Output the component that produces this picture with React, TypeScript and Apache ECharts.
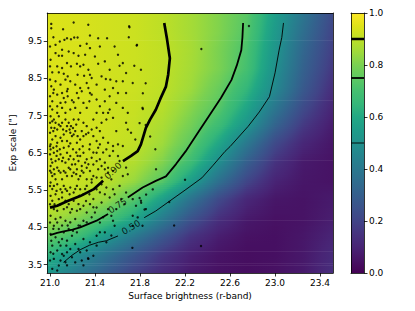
import React, { useEffect, useRef } from "react";
import * as echarts from "echarts";

// ---------- axes ----------
const X_RANGE = [20.975, 23.515];
const Y_RANGE = [3.275, 10.257];
const X_TICKS = [21.0, 21.4, 21.8, 22.2, 22.6, 23.0, 23.4];
const Y_TICKS = [3.5, 4.5, 5.5, 6.5, 7.5, 8.5, 9.5];

// ---------- completeness field ----------
const X_NODES = [21.0, 21.25, 21.5, 21.75, 22.0, 22.25, 22.5, 22.75, 23.0, 23.25, 23.5];
const Y_NODES = [10.25, 9.75, 9.25, 8.75, 8.25, 7.75, 7.25, 6.75, 6.25, 5.75, 5.25, 4.75, 4.25, 3.75, 3.25];
const COMPLETENESS = [
  [0.945, 0.94, 0.93, 0.92, 0.9, 0.86, 0.81, 0.74, 0.56, 0.39, 0.23],
  [0.945, 0.94, 0.93, 0.92, 0.9, 0.86, 0.81, 0.73, 0.54, 0.36, 0.21],
  [0.945, 0.94, 0.93, 0.92, 0.905, 0.865, 0.8, 0.71, 0.52, 0.33, 0.19],
  [0.945, 0.94, 0.93, 0.92, 0.905, 0.86, 0.8, 0.7, 0.5, 0.31, 0.17],
  [0.945, 0.94, 0.93, 0.92, 0.902, 0.85, 0.77, 0.65, 0.47, 0.28, 0.14],
  [0.94, 0.935, 0.925, 0.915, 0.89, 0.82, 0.74, 0.59, 0.4, 0.23, 0.11],
  [0.94, 0.935, 0.925, 0.91, 0.87, 0.79, 0.68, 0.52, 0.32, 0.17, 0.08],
  [0.935, 0.93, 0.92, 0.905, 0.85, 0.75, 0.59, 0.4, 0.22, 0.11, 0.06],
  [0.93, 0.925, 0.91, 0.88, 0.81, 0.68, 0.49, 0.3, 0.15, 0.07, 0.05],
  [0.925, 0.915, 0.897, 0.84, 0.74, 0.56, 0.37, 0.21, 0.1, 0.06, 0.05],
  [0.915, 0.895, 0.84, 0.73, 0.56, 0.38, 0.22, 0.11, 0.06, 0.05, 0.07],
  [0.87, 0.81, 0.72, 0.59, 0.42, 0.26, 0.14, 0.07, 0.045, 0.05, 0.08],
  [0.76, 0.68, 0.53, 0.4, 0.27, 0.15, 0.08, 0.045, 0.04, 0.06, 0.1],
  [0.63, 0.49, 0.37, 0.26, 0.16, 0.09, 0.05, 0.035, 0.04, 0.065, 0.12],
  [0.52, 0.4, 0.29, 0.19, 0.12, 0.07, 0.045, 0.035, 0.045, 0.07, 0.13],
];

// ---------- contours ----------
const CONTOUR_90_UPPER = [
  [22.015, 9.99], [22.04, 9.55], [22.065, 9.04], [22.05, 8.6], [22.03, 8.28], [21.98, 7.95],
  [21.94, 7.66], [21.89, 7.4], [21.852, 7.17], [21.83, 6.95], [21.808, 6.73], [21.779, 6.55],
  [21.72, 6.42], [21.648, 6.28],
];
const CONTOUR_90_LOWER = [
  [21.0, 5.03], [21.064, 5.08], [21.151, 5.2], [21.268, 5.34], [21.385, 5.52], [21.472, 5.75],
];
const CONTOUR_75_UPPER = [
  [22.716, 9.99], [22.71, 9.6], [22.7, 9.26], [22.66, 8.85], [22.613, 8.46], [22.52, 7.98],
  [22.41, 7.48], [22.32, 7.07], [22.234, 6.67], [22.205, 6.54], [22.12, 6.2], [22.03, 5.87],
  [21.94, 5.75], [21.823, 5.57], [21.691, 5.3],
];
const CONTOUR_75_LOWER = [
  [21.0, 4.29], [21.064, 4.35], [21.122, 4.39], [21.2, 4.44], [21.268, 4.5], [21.414, 4.68], [21.516, 4.86],
];
const CONTOUR_50_UPPER = [
  [23.075, 9.99], [23.06, 9.6], [23.036, 9.26], [23.0, 8.65], [22.95, 8.01], [22.86, 7.6],
  [22.76, 7.21], [22.6, 6.67], [22.555, 6.54], [22.45, 6.17], [22.35, 5.83], [22.2, 5.5],
  [22.06, 5.2], [21.94, 4.94], [21.837, 4.76],
];
const CONTOUR_50_LOWER = [
  [21.12, 3.56], [21.195, 3.75], [21.268, 3.9], [21.35, 4.02], [21.43, 4.1], [21.5, 4.14], [21.604, 4.27],
];
const CONTOUR_LABEL_POS = [[21.56, 6.02], [21.6, 5.08], [21.72, 4.5]];
const CONTOUR_LABEL_TEXT = ["0.90", "0.75", "0.50"];
const CONTOUR_LABEL_ANGLE = [44, 33, 31];
const LEVELS = [0.9, 0.75, 0.5];

// ---------- galaxies ----------
const GALAXIES = [
  [21.011, 9.964], [21.011, 9.848], [21.21, 10.0], [21.34, 9.94], [21.116, 9.82], [21.706, 9.875],
  [21.03, 9.607], [21.151, 9.58], [21.186, 9.554], [21.215, 9.6], [21.245, 9.6], [21.355, 9.652],
  [21.428, 9.58], [21.507, 9.58], [21.7, 9.607], [21.087, 9.49], [21.128, 9.536], [21.268, 9.375],
  [21.326, 9.43], [21.355, 9.313], [21.443, 9.358], [21.574, 9.358], [21.77, 9.385],
  [21.049, 9.18], [21.078, 9.108], [21.107, 9.108], [21.005, 9.0], [21.253, 9.108], [21.151, 8.912],
  [21.186, 8.823], [21.239, 8.894], [21.268, 8.823], [21.428, 8.894], [21.604, 9.135], [21.647, 8.912],
  [21.618, 8.84], [21.749, 8.84], [21.808, 8.734], [21.02, 8.663], [21.078, 8.663], [21.122, 8.627],
  [21.157, 8.556], [21.137, 8.467], [21.245, 8.6], [21.303, 8.573], [21.355, 8.6], [21.37, 8.511],
  [21.458, 8.556], [21.496, 8.485], [21.536, 8.467], [21.589, 8.422], [21.647, 8.422],
  [21.011, 8.288], [21.034, 8.199], [21.029, 8.11], [21.064, 8.065], [21.107, 8.11], [21.122, 7.976],
  [21.093, 7.843], [21.137, 7.86], [21.02, 7.664], [21.064, 7.753], [21.157, 8.217], [21.151, 8.154],
  [21.195, 7.914], [21.21, 7.86], [21.239, 8.11], [21.268, 8.243], [21.282, 8.154], [21.341, 8.243],
  [21.355, 8.11], [21.37, 8.065], [21.414, 7.932], [21.443, 7.753], [21.487, 7.887], [21.53, 8.021],
  [21.56, 8.243], [21.604, 8.11], [21.676, 8.11], [21.735, 8.377], [21.516, 7.575], [21.53, 7.664],
  [21.414, 7.575], [21.268, 7.575], [21.224, 7.709], [21.18, 7.664], [21.137, 7.575], [21.822, 7.709],
  [21.064, 7.575],
  [21.005, 7.486], [21.034, 7.397], [21.049, 7.308], [21.011, 7.174], [21.029, 7.085], [21.064, 7.13],
  [21.093, 7.219], [21.107, 7.308], [21.137, 7.397], [21.151, 7.219], [21.174, 7.13], [21.18, 7.04],
  [21.195, 6.951], [21.21, 6.996], [21.224, 7.085], [21.186, 7.219], [21.122, 6.996], [21.093, 6.907],
  [21.049, 6.951], [21.02, 6.862], [21.005, 6.729], [21.064, 6.773], [21.107, 6.818], [21.151, 6.818],
  [21.18, 6.755], [21.239, 6.773], [21.268, 6.862], [21.297, 6.951], [21.341, 7.04], [21.37, 7.13],
  [21.414, 7.174], [21.443, 7.085], [21.458, 7.308], [21.501, 7.397], [21.56, 7.441], [21.589, 7.085],
  [21.676, 7.308], [21.691, 7.13], [21.72, 7.04], [21.758, 6.862], [21.472, 6.907], [21.516, 6.773],
  [21.56, 6.684], [21.355, 6.729], [21.297, 7.308], [21.253, 7.397], [21.385, 7.397], [21.078, 7.486],
  [21.21, 7.397], [21.326, 7.219], [21.604, 6.729], [21.647, 6.684],
  [21.005, 6.595], [21.034, 6.506], [21.064, 6.55], [21.093, 6.461], [21.011, 6.328], [21.049, 6.283],
  [21.078, 6.328], [21.116, 6.372], [21.137, 6.238], [21.151, 6.506], [21.18, 6.417], [21.21, 6.328],
  [21.224, 6.194], [21.253, 6.283], [21.268, 6.417], [21.297, 6.506], [21.326, 6.328], [21.341, 6.194],
  [21.37, 6.372], [21.414, 6.506], [21.443, 6.328], [21.487, 6.238], [21.501, 6.595], [21.56, 6.55],
  [21.604, 6.417], [21.618, 6.283], [21.676, 6.105], [21.691, 5.926], [21.005, 6.149], [21.034, 6.06],
  [21.064, 6.105], [21.093, 5.971], [21.122, 6.016], [21.151, 5.882], [21.02, 5.882], [21.049, 5.793],
  [21.107, 5.793], [21.18, 6.06], [21.21, 5.971], [21.239, 6.06], [21.268, 5.882], [21.297, 5.971],
  [21.355, 6.016], [21.385, 5.882], [21.428, 6.06], [21.458, 5.837], [21.516, 5.971], [21.56, 6.016],
  [21.647, 5.882], [21.326, 5.793], [21.253, 5.793],
  [21.005, 5.703], [21.034, 5.614], [21.064, 5.659], [21.093, 5.525], [21.122, 5.614], [21.151, 5.481],
  [21.18, 5.57], [21.21, 5.436], [21.239, 5.614], [21.268, 5.525], [21.297, 5.392], [21.326, 5.614],
  [21.37, 5.703], [21.414, 5.525], [21.458, 5.659], [21.487, 5.392], [21.53, 5.303], [21.56, 5.525],
  [21.618, 5.614], [21.676, 5.436], [21.735, 5.258], [21.764, 5.08], [21.005, 5.347], [21.049, 5.392],
  [21.078, 5.258], [21.02, 5.213], [21.107, 5.303], [21.137, 5.213], [21.166, 5.124], [21.21, 5.213],
  [21.253, 5.124], [21.297, 5.08], [21.355, 5.124], [21.414, 5.035], [21.458, 5.169], [21.064, 4.946],
  [21.122, 4.991], [21.18, 4.901], [21.239, 4.946], [21.326, 4.901], [21.399, 4.901], [21.034, 4.991],
  [21.589, 4.991], [21.662, 5.124], [21.852, 4.991], [21.808, 5.213],
  [21.005, 4.812], [21.049, 4.723], [21.093, 4.768], [21.137, 4.679], [21.18, 4.634], [21.224, 4.723],
  [21.268, 4.545], [21.326, 4.634], [21.034, 4.545], [21.078, 4.456], [21.122, 4.366], [21.166, 4.456],
  [21.005, 4.322], [21.049, 4.233], [21.107, 4.188], [21.151, 4.144], [21.195, 4.277], [21.239, 4.366],
  [21.297, 4.188], [21.355, 4.099], [21.414, 4.277], [21.487, 4.366], [21.56, 4.679], [21.574, 4.545],
  [21.735, 4.812], [21.779, 4.768], [21.822, 4.545], [21.735, 4.545], [21.501, 4.099], [21.02, 4.01],
  [21.093, 4.01], [21.224, 4.055],
  [21.005, 3.832], [21.064, 3.877], [21.107, 3.787], [21.151, 3.832], [21.034, 3.654], [21.093, 3.609],
  [21.195, 3.698], [21.268, 3.832], [21.078, 3.475], [21.137, 3.564], [21.341, 3.654], [21.02, 3.386],
  [21.0, 7.31], [21.0, 7.04], [21.02, 7.35], [21.04, 7.17], [21.078, 7.26], [21.116, 7.13],
  [21.145, 7.085], [21.166, 7.31], [21.204, 7.17], [21.233, 7.26], [21.245, 6.95], [21.282, 7.085],
  [21.32, 7.0], [21.385, 6.95], [21.414, 6.82], [21.443, 6.73],
  [21.0, 6.68], [21.029, 6.64], [21.058, 6.68], [21.087, 6.6], [21.122, 6.64], [21.166, 6.68],
  [21.204, 6.6], [21.233, 6.51], [21.262, 6.6], [21.291, 6.68], [21.35, 6.6], [21.385, 6.51],
  [21.428, 6.64], [21.472, 6.51], [21.53, 6.42],
  [21.0, 6.46], [21.02, 6.24], [21.058, 6.42], [21.107, 6.28], [21.166, 6.33], [21.195, 6.19],
  [21.245, 6.42], [21.282, 6.15], [21.312, 6.24], [21.385, 6.19], [21.414, 6.28], [21.458, 6.15],
  [21.516, 6.1],
  [21.0, 6.02], [21.011, 5.97], [21.04, 5.93], [21.078, 6.02], [21.137, 5.97], [21.166, 6.1],
  [21.195, 5.88], [21.233, 5.93], [21.282, 6.02], [21.326, 6.1], [21.37, 5.79], [21.414, 5.84],
  [21.487, 6.06], [21.545, 5.79],
  [21.0, 5.61], [21.02, 5.53], [21.058, 5.48], [21.107, 5.44], [21.137, 5.53], [21.174, 5.39],
  [21.224, 5.53], [21.262, 5.35], [21.312, 5.53], [21.35, 5.39], [21.385, 5.26], [21.443, 5.44],
  [21.501, 5.57], [21.574, 5.39], [21.633, 5.26],
  [21.0, 5.12], [21.04, 5.12], [21.093, 5.12], [21.151, 5.04], [21.195, 4.99], [21.268, 4.99],
  [21.32, 5.21], [21.385, 5.04], [21.516, 4.99], [21.545, 4.81],
  [21.0, 4.63], [21.029, 4.46], [21.064, 4.63], [21.107, 4.55], [21.157, 4.55], [21.204, 4.41],
  [21.253, 4.55], [21.297, 4.68], [21.37, 4.77], [21.443, 4.63], [21.472, 4.77],
  [21.011, 4.14], [21.078, 4.1], [21.145, 4.01], [21.18, 3.92], [21.253, 3.92], [21.326, 3.88],
  [21.414, 4.01], [21.029, 3.79], [21.122, 3.74], [21.224, 3.56], [21.282, 3.61], [21.064, 3.34],
  [21.0, 3.61], [21.151, 3.48], [21.297, 3.48], [21.385, 3.74], [21.443, 4.37], [21.545, 4.28],
  [21.0, 9.358], [21.049, 9.402], [21.107, 9.269], [21.166, 9.224], [21.21, 9.18], [21.312, 9.135],
  [21.399, 9.09], [21.487, 8.957], [21.0, 8.823], [21.064, 8.823], [21.107, 8.778], [21.297, 8.868],
  [21.341, 8.734], [21.53, 8.734], [21.676, 8.645], [21.0, 8.467], [21.049, 8.422], [21.093, 8.333],
  [21.18, 8.422], [21.224, 8.333], [21.326, 8.377], [21.414, 8.333], [21.487, 8.199], [21.0, 8.021],
  [21.02, 7.887], [21.157, 8.021], [21.253, 7.976], [21.297, 7.843], [21.35, 7.887], [21.589, 7.843],
  [21.647, 7.709], [21.0, 7.753], [21.107, 7.709], [21.326, 7.709], [21.472, 7.575], [21.691, 7.575],
  [22.768, 9.91], [22.345, 9.29], [21.703, 9.9], [21.773, 9.4], [21.825, 7.68], [21.85, 7.25],
  [21.89, 6.94], [21.936, 6.6], [21.796, 7.3], [21.825, 8.1], [21.85, 8.37], [22.103, 4.55],
  [22.2, 5.78], [21.942, 6.06], [22.342, 4.0], [21.732, 3.95], [21.338, 3.67], [22.06, 5.18],
  [21.796, 5.29], [21.81, 5.16], [21.854, 5.38], [21.913, 5.52], [21.84, 4.98],
];

// ---------- viridis (0.00 .. 1.00 every 0.05) ----------
const VIRIDIS = [
  "#440154", "#471365", "#482475", "#46337f", "#414487", "#3b528b", "#355f8d",
  "#2f6c8e", "#2a788e", "#25848e", "#21918c", "#1e9c89", "#22a884", "#35b779",
  "#44bf70", "#5ec962", "#7ad151", "#9fda3a", "#bddf26", "#dfe318", "#fde725",
];

const FONT = "DejaVu Sans";
const STRIPS_PER_ROW = 9;

function hexToRgb(h: string) {
  return [parseInt(h.slice(1, 3), 16), parseInt(h.slice(3, 5), 16), parseInt(h.slice(5, 7), 16)];
}
const VIR_RGB = VIRIDIS.map(hexToRgb);
function viridis(v: number) {
  const t = Math.max(0, Math.min(1, v)) * (VIRIDIS.length - 1);
  const i = Math.min(VIRIDIS.length - 2, Math.floor(t));
  const f = t - i;
  const a = VIR_RGB[i], b = VIR_RGB[i + 1];
  const c = a.map((x, k) => Math.round(x + (b[k] - x) * f));
  return `rgb(${c[0]},${c[1]},${c[2]})`;
}

export default function App() {
  const ref = useRef<HTMLDivElement>(null);
  useEffect(() => {
    if (!ref.current) return;
    const chart = echarts.init(ref.current, undefined, { renderer: "svg" });
    const nc = X_NODES.length, nr = Y_NODES.length;

    // one item per horizontal strip: [xmin, yBottom, xmax, yTop, row, sub]
    const strips: number[][] = [];
    for (let r = 0; r < nr - 1; r++)
      for (let k = 0; k < STRIPS_PER_ROW; k++)
        strips.push([X_NODES[0], Y_NODES[r + 1], X_NODES[nc - 1], Y_NODES[r], r, k]);

    const renderStrip = (params: any, api: any) => {
      const r = api.value(4) as number, k = api.value(5) as number;
      const cs = params.coordSys;
      let yt = api.coord([X_NODES[0], Y_NODES[r]])[1];
      let yb = api.coord([X_NODES[0], Y_NODES[r + 1]])[1];
      if (r === 0) yt = cs.y;
      if (r === nr - 2) yb = cs.y + cs.height;
      const h = (yb - yt) / STRIPS_PER_ROW;
      const y0 = yt + k * h;
      // value fraction at strip centre, measured in data space between the two node rows
      const yc = y0 + h / 2;
      const ytn = api.coord([X_NODES[0], Y_NODES[r]])[1];
      const ybn = api.coord([X_NODES[0], Y_NODES[r + 1]])[1];
      const t = Math.max(0, Math.min(1, (yc - ytn) / (ybn - ytn)));
      const vals = X_NODES.map((_, c) => COMPLETENESS[r][c] * (1 - t) + COMPLETENESS[r + 1][c] * t);
      const offs = X_NODES.map((x) => (api.coord([x, Y_NODES[r]])[0] - cs.x) / cs.width);
      const stops: { offset: number; color: string }[] = [];
      const nS = VIRIDIS.length - 1;
      for (let c = 0; c < nc; c++) {
        stops.push({ offset: Math.max(0, Math.min(1, offs[c])), color: viridis(vals[c]) });
        if (c < nc - 1) {
          const a = vals[c], b = vals[c + 1];
          const lo = Math.min(a, b), hi = Math.max(a, b);
          const cross: number[] = [];
          for (let i = 1; i < nS; i++) {
            const s = i / nS;
            if (s > lo && s < hi) cross.push(s);
          }
          if (b < a) cross.reverse();
          cross.forEach((s) => {
            const f = (s - a) / (b - a);
            stops.push({ offset: offs[c] + f * (offs[c + 1] - offs[c]), color: VIRIDIS[Math.round(s * nS)] });
          });
        }
      }
      return {
        type: "rect",
        shape: { x: cs.x, y: y0, width: cs.width, height: h + (k === STRIPS_PER_ROW - 1 && r === nr - 2 ? 0 : 0.7) },
        style: { fill: new echarts.graphic.LinearGradient(0, 0, 1, 0, stops) },
      };
    };

    const renderColorbar = (_params: any, api: any) => {
      const p0 = api.coord([0, 0]);
      const p1 = api.coord([1, 1]);
      return {
        type: "rect",
        shape: { x: p0[0], y: p1[1], width: p1[0] - p0[0], height: p0[1] - p1[1] },
        style: {
          fill: new echarts.graphic.LinearGradient(
            0, 1, 0, 0,
            VIRIDIS.map((col, i) => ({ offset: i / (VIRIDIS.length - 1), color: col }))
          ),
        },
      };
    };

    const spine = { show: true, onZero: false, lineStyle: { color: "#000", width: 0.8 } };
    const tick = { show: true, length: 3.5, lineStyle: { color: "#000", width: 0.8 } };
    const lbl = { fontSize: 9, color: "#000", fontFamily: FONT };
    const lineOnly = (extra: any) => ({
      type: "value",
      z: 10,
      axisLine: spine,
      axisTick: { show: false },
      axisLabel: { show: false },
      splitLine: { show: false },
      ...extra,
    });

    const contourSeries = (data: number[][], width: number) => ({
      type: "line",
      xAxisIndex: 0,
      yAxisIndex: 0,
      data,
      symbol: "none",
      z: 3,
      lineStyle: { color: "#000", width },
      silent: true,
    });
    const widths = [2.7, 1.8, 0.9];

    chart.setOption({
      animation: false,
      grid: [
        { left: 43, top: 13, width: 290, height: 260 },
        { left: 351, top: 13, width: 13, height: 260 },
      ],
      xAxis: [
        {
          type: "value",
          gridIndex: 0,
          min: X_RANGE[0],
          max: X_RANGE[1],
          z: 10,
          axisLine: spine,
          axisTick: { ...tick, customValues: X_TICKS },
          axisLabel: { ...lbl, margin: 5, customValues: X_TICKS, formatter: (v: number) => v.toFixed(1) },
          splitLine: { show: false },
          name: "Surface brightness (r-band)",
          nameLocation: "middle",
          nameGap: 18,
          nameTextStyle: lbl,
        },
        lineOnly({ gridIndex: 0, position: "top", min: X_RANGE[0], max: X_RANGE[1] }),
        lineOnly({ gridIndex: 1, position: "bottom", min: 0, max: 1 }),
        lineOnly({ gridIndex: 1, position: "top", min: 0, max: 1 }),
      ],
      yAxis: [
        {
          type: "value",
          gridIndex: 0,
          min: Y_RANGE[0],
          max: Y_RANGE[1],
          z: 10,
          axisLine: spine,
          axisTick: { ...tick, customValues: Y_TICKS },
          axisLabel: { ...lbl, margin: 5, customValues: Y_TICKS, formatter: (v: number) => v.toFixed(1) },
          splitLine: { show: false },
          name: 'Exp scale ["]',
          nameLocation: "middle",
          nameRotate: 90,
          nameGap: 24,
          nameTextStyle: lbl,
        },
        lineOnly({ gridIndex: 0, position: "right", min: Y_RANGE[0], max: Y_RANGE[1] }),
        {
          type: "value",
          gridIndex: 1,
          position: "right",
          min: 0,
          max: 1,
          interval: 0.2,
          z: 10,
          axisLine: spine,
          axisTick: tick,
          axisLabel: { ...lbl, margin: 5, formatter: (v: number) => v.toFixed(1) },
          splitLine: { show: false },
        },
        lineOnly({ gridIndex: 1, position: "left", min: 0, max: 1 }),
      ],
      series: [
        {
          type: "custom",
          xAxisIndex: 0,
          yAxisIndex: 0,
          z: 1,
          silent: true,
          data: strips,
          encode: { x: [0, 2], y: [1, 3] },
          renderItem: renderStrip,
        },
        contourSeries(CONTOUR_90_UPPER, widths[0]),
        contourSeries(CONTOUR_90_LOWER, widths[0]),
        contourSeries(CONTOUR_75_UPPER, widths[1]),
        contourSeries(CONTOUR_75_LOWER, widths[1]),
        contourSeries(CONTOUR_50_UPPER, widths[2]),
        contourSeries(CONTOUR_50_LOWER, widths[2]),
        {
          type: "scatter",
          xAxisIndex: 0,
          yAxisIndex: 0,
          z: 4,
          silent: true,
          symbol: "circle",
          symbolSize: 2.4,
          itemStyle: { color: "#000" },
          data: GALAXIES,
        },
        {
          type: "scatter",
          xAxisIndex: 0,
          yAxisIndex: 0,
          z: 5,
          silent: true,
          symbolSize: 0.1,
          itemStyle: { color: "transparent" },
          data: CONTOUR_LABEL_POS.map((p, i) => ({
            value: p,
            label: {
              show: true,
              position: "inside",
              formatter: CONTOUR_LABEL_TEXT[i],
              rotate: CONTOUR_LABEL_ANGLE[i],
              ...lbl,
            },
          })),
        },
        {
          type: "custom",
          xAxisIndex: 2,
          yAxisIndex: 2,
          z: 1,
          silent: true,
          data: [[0, 0, 1, 1]],
          encode: { x: [0, 2], y: [1, 3] },
          renderItem: renderColorbar,
        },
        ...LEVELS.map((lv, i) => ({
          type: "line",
          xAxisIndex: 2,
          yAxisIndex: 2,
          z: 3,
          silent: true,
          symbol: "none",
          lineStyle: { color: "#000", width: widths[i] },
          data: [[0, lv], [1, lv]],
        })),
      ],
    });
    return () => chart.dispose();
  }, []);
  return (
    <div
      ref={ref}
      style={{ position: "fixed", left: 0, top: 0, width: 415, height: 311, background: "#fff" }}
    />
  );
}
